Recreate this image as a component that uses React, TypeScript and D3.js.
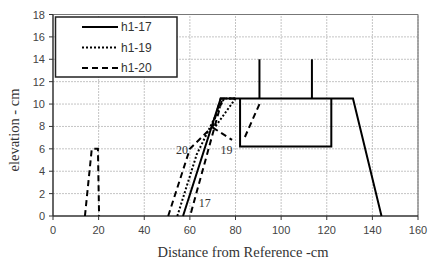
import React from 'react'
import * as d3 from 'd3'

// tick values
const xTicks = [0, 20, 40, 60, 80, 100, 120, 140, 160]
const yTicks = [0, 2, 4, 6, 8, 10, 12, 14, 16, 18]

// h1-17 (solid) profile + structure
const h17Profile = [[57, 0], [73.5, 10.5], [131.5, 10.5], [144, 0]]
const h17Box = [[82, 10.5], [82, 6.2], [122, 6.2], [122, 10.5]]
const h17PostA = [[90.5, 10.5], [90.5, 14]]
const h17PostB = [[113.5, 10.5], [113.5, 14]]

// h1-19 (dotted)
const h19Profile = [[54.5, 0], [63, 5.5], [69, 8], [75, 10.5], [80, 10.5]]
const h19Return = [[80, 10.5], [70.5, 7.8]]

// h1-20 (dashed)
const h20Left = [[14, 0], [17, 6], [19.7, 6], [20.2, 0]]
const h20Profile = [[50.5, 0], [60, 6], [70, 8], [73.5, 10.5], [81, 10.5]]
const h20Right = [[60.5, 0.3], [74, 10.3]]
const h20Inside = [[90.5, 10], [84, 7]]
const leader19 = [[70, 7.9], [78.5, 6.8]]

const labels = [
  { text: '20', x: 56.5, y: 5.9 },
  { text: '19', x: 76, y: 5.9 },
  { text: '17', x: 66.5, y: 1.2 },
]

const legendItems = [
  { name: 'h1-17', dash: 'none' },
  { name: 'h1-19', dash: '2,2' },
  { name: 'h1-20', dash: '6,4' },
]

export default function App() {
  const width = 428
  const height = 261
  const x = d3.scaleLinear().domain([0, 160]).range([53, 418])
  const y = d3.scaleLinear().domain([0, 18]).range([216, 14.5])
  const line = d3.line<number[]>().x(d => x(d[0])).y(d => y(d[1]))

  const solid = [h17Profile, h17Box, h17PostA, h17PostB]
  const dotted = [h19Profile, h19Return]
  const dashed = [h20Left, h20Profile, h20Right, h20Inside, leader19]

  return (
    <svg width={width} height={height} style={{ position: 'absolute', left: 0, top: 0 }}>
      <rect width={width} height={height} fill="#fff" />
      {/* grid */}
      {xTicks.slice(1).map(t => (
        <line key={'gx' + t} x1={x(t)} x2={x(t)} y1={y(0)} y2={y(18)} stroke="#c4c4c4" strokeDasharray="2,1" />
      ))}
      {yTicks.slice(1).map(t => (
        <line key={'gy' + t} x1={x(0)} x2={x(160)} y1={y(t)} y2={y(t)} stroke="#c4c4c4" strokeDasharray="2,1" />
      ))}
      {/* frame top / right */}
      <line x1={x(0)} x2={x(160)} y1={y(18)} y2={y(18)} stroke="#777" strokeWidth={1.2} />
      <line x1={x(160)} x2={x(160)} y1={y(0)} y2={y(18)} stroke="#777" strokeWidth={1.2} />
      {/* axes */}
      <line x1={x(0)} x2={x(160)} y1={y(0)} y2={y(0)} stroke="#333" strokeWidth={1.5} />
      <line x1={x(0)} x2={x(0)} y1={y(0)} y2={y(18)} stroke="#333" strokeWidth={1.5} />
      {xTicks.map(t => (
        <g key={'tx' + t}>
          <line x1={x(t)} x2={x(t)} y1={y(0)} y2={y(0) + 4} stroke="#333" />
          <text x={x(t)} y={y(0) + 18} textAnchor="middle" fontFamily="Liberation Sans, Arial, sans-serif" fontSize={11} fill="#444">{t}</text>
        </g>
      ))}
      {yTicks.map(t => (
        <g key={'ty' + t}>
          <line x1={x(0) - 4} x2={x(0)} y1={y(t)} y2={y(t)} stroke="#333" />
          <text x={x(0) - 8} y={y(t) + 4} textAnchor="end" fontFamily="Liberation Sans, Arial, sans-serif" fontSize={11} fill="#444">{t}</text>
        </g>
      ))}
      {/* axis titles */}
      <text x={243} y={257} textAnchor="middle" fontFamily="Liberation Serif, Times New Roman, serif" fontSize={14.5} fill="#333">Distance from Reference -cm</text>
      <text transform="translate(19,130) rotate(-90)" textAnchor="middle" fontFamily="Liberation Serif, Times New Roman, serif" fontSize={14.5} fill="#333">elevation - cm</text>
      {/* series */}
      {solid.map((d, i) => (
        <path key={'s' + i} d={line(d) || ''} fill="none" stroke="#000" strokeWidth={2} />
      ))}
      {dotted.map((d, i) => (
        <path key={'o' + i} d={line(d) || ''} fill="none" stroke="#000" strokeWidth={2} strokeDasharray="2,2" />
      ))}
      {dashed.map((d, i) => (
        <path key={'d' + i} d={line(d) || ''} fill="none" stroke="#000" strokeWidth={2} strokeDasharray="6,4" />
      ))}
      {labels.map(l => (
        <text key={l.text} x={x(l.x)} y={y(l.y) + 4} textAnchor="middle" fontFamily="Liberation Serif, Times New Roman, serif" fontSize={12} fill="#333">{l.text}</text>
      ))}
      {/* legend */}
      <rect x={55.5} y={17} width={121.5} height={60} fill="#fff" stroke="#222" strokeWidth={1.5} />
      {legendItems.map((it, i) => (
        <g key={it.name}>
          <line x1={82} x2={118} y1={27 + i * 20.5} y2={27 + i * 20.5} stroke="#000" strokeWidth={2} strokeDasharray={it.dash} />
          <text x={121} y={31 + i * 20.5} fontFamily="Liberation Sans, Arial, sans-serif" fontSize={12} fill="#333">{it.name}</text>
        </g>
      ))}
    </svg>
  )
}
